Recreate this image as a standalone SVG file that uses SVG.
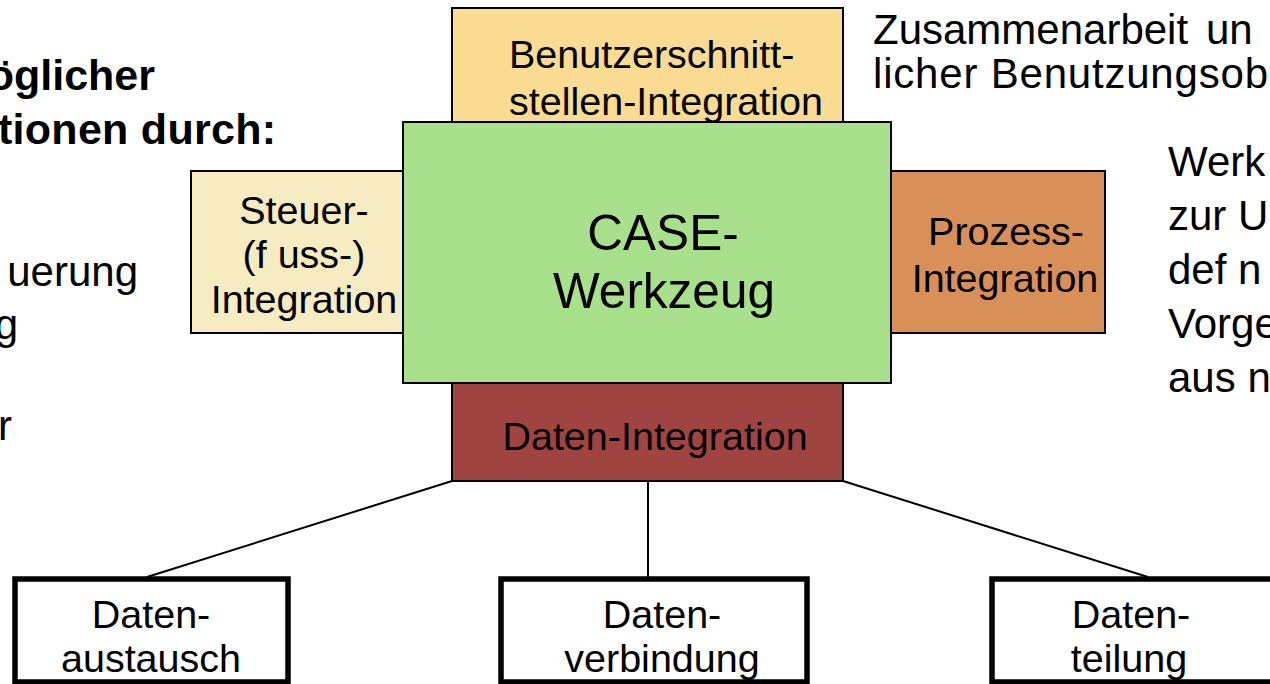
<svg xmlns="http://www.w3.org/2000/svg" width="1270" height="684" viewBox="0 0 1270 684">
<style>
text{font-family:"Liberation Sans",Arial,sans-serif;fill:#000}
.lbl{font-size:39.5px}
.big{font-size:49.5px;text-anchor:middle}
.mid{text-anchor:middle}
.side{font-size:42px}
.bold{font-size:43px;font-weight:bold}
.box{stroke:#000;stroke-width:2}
.leaf{fill:#fff;stroke:#000;stroke-width:5.5}
.conn{stroke:#000;stroke-width:2;fill:none}
</style>
<rect width="1270" height="684" fill="#fff"/>
<g id="left-text">
<text class="bold" x="155" y="90" text-anchor="end">öglicher</text>
<text class="bold" x="-2" y="144" textLength="278" lengthAdjust="spacing">tionen durch:</text>
<text class="side" x="138" y="286" text-anchor="end">uerung</text>
<text class="side" x="18" y="339" text-anchor="end">g</text>
<text class="side" x="12" y="440" text-anchor="end">r</text>
</g>
<g id="right-text">
<text class="side" x="873" y="44">Zusammenarbeit <tspan x="1206">un</tspan></text>
<text class="side" x="873" y="88" textLength="395" lengthAdjust="spacing">licher Benutzungsob</text>
<text class="side" x="1168" y="176">Werk</text>
<text class="side" x="1168" y="230">zur U</text>
<text class="side" x="1168" y="284">def n</text>
<text class="side" x="1168" y="338">Vorge</text>
<text class="side" x="1168" y="392">aus n</text>
</g>
<g id="connectors">
<line class="conn" x1="452" y1="481" x2="147" y2="577"/>
<line class="conn" x1="648" y1="481" x2="648" y2="577"/>
<line class="conn" x1="843" y1="481" x2="1148" y2="577"/>
</g>
<g id="ui-integration">
<rect class="box" x="452" y="8" width="391" height="114" fill="#F9DC91"/>
<text class="lbl" x="509" y="68">Benutzerschnitt-</text>
<text class="lbl" x="509" y="115">stellen-Integration</text>
</g>
<g id="control-integration">
<rect class="box" x="191" y="171" width="212" height="162" fill="#F7EBC1"/>
<text class="lbl mid" x="304" y="224">Steuer-</text>
<text class="lbl mid" x="304" y="268">(f uss-)</text>
<text class="lbl mid" x="304" y="313">Integration</text>
</g>
<g id="process-integration">
<rect class="box" x="891" y="171" width="214" height="162" fill="#D98F58"/>
<text class="lbl mid" x="1006" y="245">Prozess-</text>
<text class="lbl mid" x="1005" y="292">Integration</text>
</g>
<g id="data-integration">
<rect class="box" x="452" y="383" width="391" height="98" fill="#A04442"/>
<text class="lbl mid" x="655" y="450">Daten-Integration</text>
</g>
<g id="case-tool">
<rect class="box" x="403" y="122" width="488" height="261" fill="#A9E08B"/>
<text class="big" x="663" y="250">CASE-</text>
<text class="big" x="664" y="308">Werkzeug</text>
</g>
<g id="data-exchange">
<rect class="leaf" x="15" y="579" width="273" height="103"/>
<text class="lbl mid" x="151" y="628">Daten-</text>
<text class="lbl mid" x="151" y="672">austausch</text>
</g>
<g id="data-connection">
<rect class="leaf" x="501" y="579" width="306" height="103"/>
<text class="lbl mid" x="662" y="628">Daten-</text>
<text class="lbl mid" x="662" y="672">verbindung</text>
</g>
<g id="data-sharing">
<rect class="leaf" x="992" y="579" width="285" height="103"/>
<text class="lbl mid" x="1131" y="628">Daten-</text>
<text class="lbl mid" x="1129" y="672">teilung</text>
</g>
</svg>
